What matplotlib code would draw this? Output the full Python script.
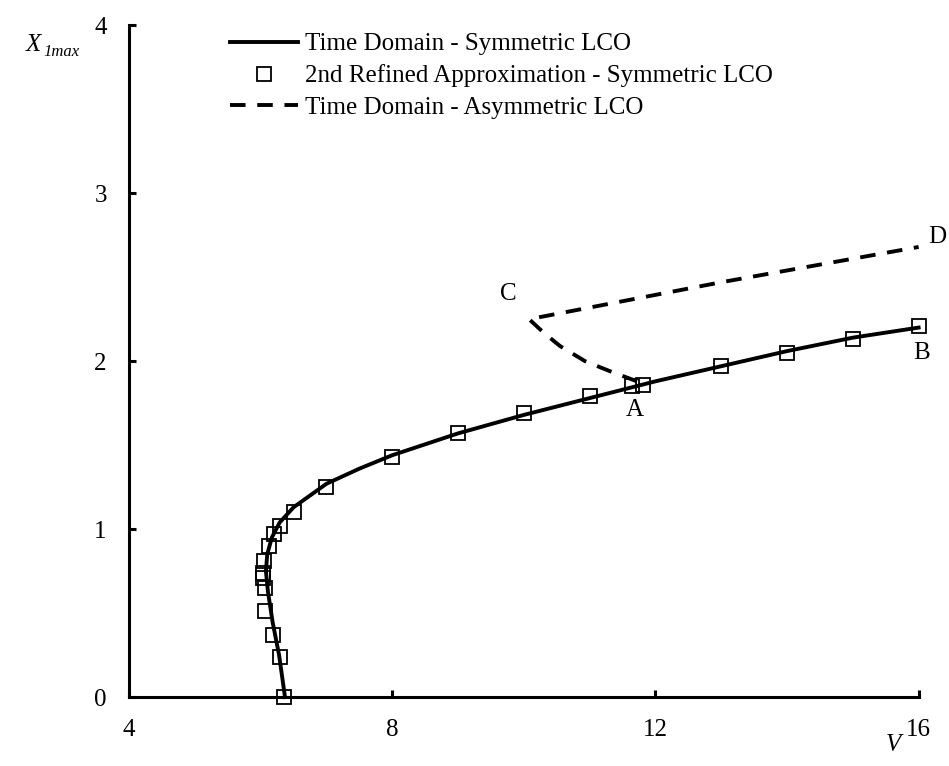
import matplotlib
matplotlib.use("Agg")
import matplotlib.pyplot as plt

plt.rcParams['font.family'] = ['Liberation Serif', 'DejaVu Serif']

# time domain, symmetric LCO
sym_v = [6.37, 6.28, 6.18, 6.11, 6.08, 6.10, 6.17, 6.29, 6.50, 7.0, 7.5, 8.0,
         9.0, 10.0, 11.0, 12.0, 13.0, 14.0, 15.0, 16.0]
sym_x = [0.0, 0.25, 0.45, 0.63, 0.75, 0.85, 0.95, 1.04, 1.13, 1.27, 1.36, 1.44,
         1.57, 1.68, 1.78, 1.88, 1.97, 2.06, 2.14, 2.20]

# 2nd refined approximation, symmetric LCO
apx_v = [6.35, 6.29, 6.19, 6.07, 6.07, 6.03, 6.03, 6.05, 6.12, 6.21, 6.29, 6.50,
         7.0, 8.0, 9.0, 10.0, 11.0, 11.65, 11.81, 13.0, 14.0, 15.0, 16.0]
apx_x = [0.0, 0.24, 0.37, 0.51, 0.65, 0.71, 0.74, 0.81, 0.90, 0.97, 1.02, 1.10,
         1.25, 1.43, 1.57, 1.69, 1.79, 1.85, 1.86, 1.97, 2.05, 2.13, 2.21]

# time domain, asymmetric LCO (A -> C -> D)
asym_v = [11.72, 11.31, 10.93, 10.55, 10.30, 10.08, 13.0, 16.0]
asym_x = [1.88, 1.94, 2.00, 2.09, 2.17, 2.25, 2.47, 2.68]

point_names = ['A', 'B', 'C', 'D']
point_v = [11.68, 16.05, 9.76, 16.28]
point_x = [1.71, 2.05, 2.40, 2.74]

fig = plt.figure(figsize=(9.49, 7.66), dpi=100)
ax = fig.add_axes([0.136, 0.090, 0.832, 0.877])

ax.plot(sym_v, sym_x, color='black', lw=2.8, label='Time Domain - Symmetric LCO')
ax.plot(apx_v, apx_x, ls='none', marker='s', ms=9.5, mfc='none', mec='black',
        mew=1.3, label='2nd Refined Approximation - Symmetric LCO')
ax.plot(asym_v, asym_x, color='black', lw=2.8, dashes=(4, 3),
        label='Time Domain - Asymmetric LCO')

for name, v, x in zip(point_names, point_v, point_x):
    ax.text(v, x, name, fontsize=18, ha='center', va='center')

ax.set_xlim(4, 16)
ax.set_ylim(0, 4)
ax.set_xticks([4, 8, 12, 16])
ax.set_yticks([0, 1, 2, 3, 4])
ax.spines['top'].set_visible(False)
ax.spines['right'].set_visible(False)
for s in ['left', 'bottom']:
    ax.spines[s].set_linewidth(2.2)
ax.tick_params(direction='in', length=5, width=2.2, labelsize=18, pad=16)
for ln in ax.lines:
    ln.set_clip_on(False)

# y label: italic X with italic subscript
fig.text(0.027, 0.933, 'X', fontsize=18, style='italic', va='baseline', ha='left')
fig.text(0.046, 0.927, '1max', fontsize=12, style='italic', va='baseline', ha='left')
fig.text(0.941, 0.027, 'V', fontsize=18, style='italic', ha='center', va='center')

ax.legend(loc='upper left', bbox_to_anchor=(0.232, 0.970), bbox_transform=fig.transFigure,
          frameon=False, fontsize=18, handlelength=2.7, handletextpad=0.3,
          labelspacing=0.36, borderaxespad=0)

fig.savefig('out.png', dpi=100)
